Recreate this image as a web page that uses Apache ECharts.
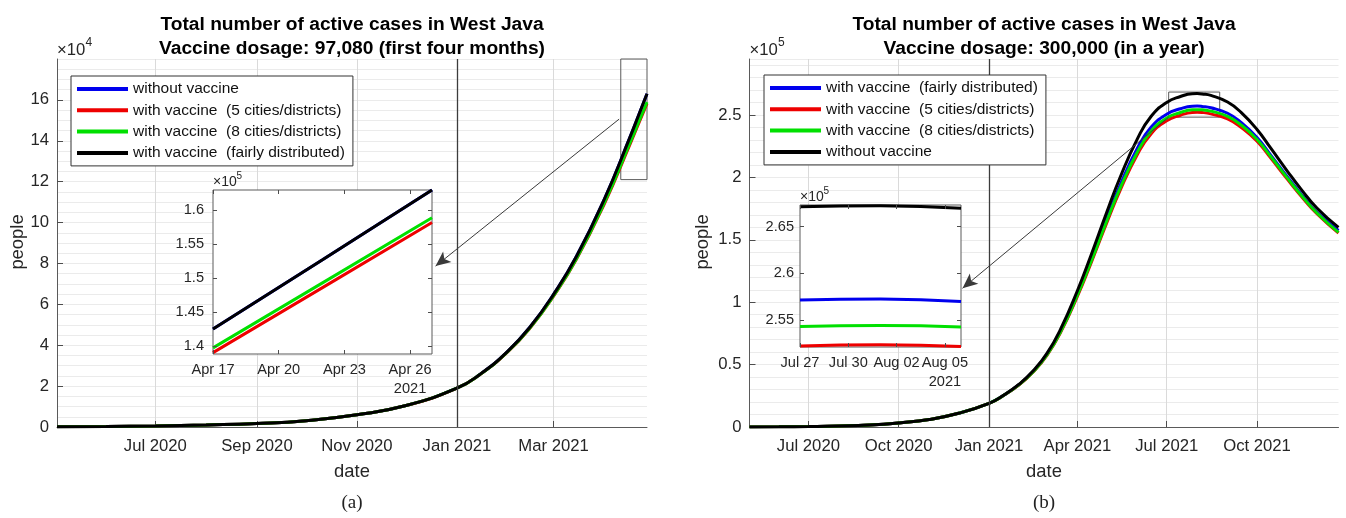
<!DOCTYPE html>
<html>
<head>
<meta charset="utf-8">
<title>Total number of active cases in West Java</title>
<script src="https://cdn.jsdelivr.net/npm/echarts@6.0.0/dist/echarts.min.js"></script>
<style>
html,body{margin:0;padding:0;background:#ffffff;overflow:hidden;}
#wrap{position:relative;width:1346px;height:518px;}
#chartA,#chartB{position:absolute;top:0;width:673px;height:518px;}
#chartA{left:0;}
#chartB{left:673px;}
</style>
</head>
<body>
<div id="wrap"><div id="chartA"></div><div id="chartB"></div></div>
<script>
// ---------------- DATA : panel (a) ----------------
const aDates = ['2020-05-02','2020-06-01','2020-07-01','2020-08-01','2020-09-01','2020-10-01','2020-11-01','2020-12-01','2021-01-01','2021-01-15','2021-02-01','2021-02-15','2021-03-01','2021-03-15','2021-04-01','2021-04-17','2021-04-22','2021-04-27'];
const aWithoutVaccine     = [150,300,550,1000,1700,3100,6000,10500,19000,25700,37000,49300,64900,83500,111500,142500,152700,163000];
const aFiveCities         = [150,300,550,1000,1700,3100,6000,10500,19000,25620,36740,48780,64000,82100,109200,139000,148600,158200];
const aEightCities        = [150,300,550,1000,1700,3100,6000,10500,19000,25640,36800,48900,64200,82400,109700,139700,149300,158900];
const aFairlyDistributed  = [150,300,550,1000,1700,3100,6000,10500,19000,25700,37000,49300,64900,83500,111500,142500,152700,163000];
const aXRange = ['2020-05-02','2021-04-27'];
const aXTickDates = ['2020-07-01','2020-09-01','2020-11-01','2021-01-01','2021-03-01'];
const aXTickLabels = ['Jul 2020','Sep 2020','Nov 2020','Jan 2021','Mar 2021'];
const aYTicks = [0,20000,40000,60000,80000,100000,120000,140000,160000];
const aYMax = 180000;
const aInsetXRange = ['2021-04-17','2021-04-27'];
const aInsetYRange = [138800,163000];
const aInsetXTickDates = ['2021-04-17','2021-04-20','2021-04-23','2021-04-26'];
const aInsetXTickLabels = ['Apr 17','Apr 20','Apr 23','Apr 26\n2021'];
const aInsetYTicks = [140000,145000,150000,155000,160000];
const aZoomBox = [['2021-04-11',121000],['2021-04-27',180000]];
const aArrow = [['2021-04-10',150600],['2020-12-19',78700]];

// ---------------- DATA : panel (b) ----------------
const bDates = ['2020-05-02','2020-06-01','2020-07-01','2020-08-01','2020-09-01','2020-10-01','2020-11-01','2020-12-01','2021-01-01','2021-01-15','2021-02-01','2021-02-15','2021-03-01','2021-03-15','2021-04-01','2021-04-15','2021-05-01','2021-05-15','2021-06-01','2021-06-15','2021-07-01','2021-07-15','2021-07-27','2021-08-01','2021-08-06','2021-08-15','2021-09-01','2021-09-15','2021-10-01','2021-10-15','2021-11-01','2021-11-15','2021-12-01','2021-12-23'];
const bFairlyDistributed = [100,200,400,800,1600,3300,6000,11000,19000,24950,34300,44550,58200,77100,106700,134100,167300,194700,223250,240250,250750,255110,257150,257250,256970,255900,251500,244000,232000,218000,200500,186700,172200,157500];
const bFiveCities        = [100,200,400,800,1600,3300,6000,11000,19000,24900,34100,44200,57500,75900,104700,131600,163800,190500,218250,234950,245450,249910,252200,252350,252150,251000,247000,240000,229000,215500,198500,185000,171000,155500];
const bEightCities       = [100,200,400,800,1600,3300,6000,11000,19000,24930,34200,44350,57800,76400,105700,132700,165300,192300,220250,237150,247750,252110,254300,254400,254250,253200,249000,242000,230500,216800,199500,185800,171500,156000];
const bWithoutVaccine    = [100,200,400,800,1600,3300,6000,11000,19000,25000,34500,45000,59000,78600,109200,137900,172300,201000,230750,248950,260150,264910,267150,267250,266980,265800,260500,252000,238500,223500,205000,190500,175500,160000];
const bXRange = ['2020-05-02','2021-12-23'];
const bXTickDates = ['2020-07-01','2020-10-01','2021-01-01','2021-04-01','2021-07-01','2021-10-01'];
const bXTickLabels = ['Jul 2020','Oct 2020','Jan 2021','Apr 2021','Jul 2021','Oct 2021'];
const bYTicks = [0,50000,100000,150000,200000,250000];
const bYMax = 295000;
const bInsetXRange = ['2021-07-27','2021-08-06'];
const bInsetYRange = [252100,267330];
const bInsetXTickDates = ['2021-07-27','2021-07-30','2021-08-02','2021-08-05'];
const bInsetXTickLabels = ['Jul 27','Jul 30','Aug 02','Aug 05\n2021'];
const bInsetYTicks = [255000,260000,265000];
const bZoomBox = [['2021-07-03',248400],['2021-08-24',268500]];
const bArrow = [['2021-07-03',248400],['2020-12-05',111200]];

const vaccineStart = '2021-01-01';

// ---------------- STYLE ----------------
const FONT = '"Liberation Sans", Arial, Helvetica, sans-serif';
const SERIF = '"Liberation Serif", "Times New Roman", serif';
const INK = '#262626';
const BLUE = '#0000ee', RED = '#ee0000', GREEN = '#00e000', BLACK = '#000000';

const ts = s => { const p = s.split('-').map(Number); return Date.UTC(p[0], p[1] - 1, p[2]); };
const pairs = (dates, vals) => dates.map((d, i) => [ts(d), vals[i]]);

function txt(x, y, str, size, o) {
  o = o || {};
  return {
    type: 'text', x: x, y: y, rotation: o.rotation || 0, silent: true, z: 30,
    style: {
      text: str, fontSize: size, fontFamily: o.family || FONT, fontWeight: o.weight || 'normal',
      fill: o.color || INK, align: o.align || 'center', verticalAlign: o.valign || 'middle'
    }
  };
}

function buildOption(c) {
  const L = c.layout;
  const xTicks = c.xTickDates.map(ts);
  const insetXTicks = c.insetXTickDates.map(ts);
  const ix0 = ts(c.insetXRange[0]), ix1 = ts(c.insetXRange[1]);
  const tickStyle = { color: '#4d4d4d', width: 1 };
  const series = [];
  c.lines.forEach((ln, i) => {
    const s = {
      type: 'line', name: ln.name, xAxisIndex: 0, yAxisIndex: 0,
      data: pairs(c.dates, ln.values), symbol: 'none', showSymbol: false,
      smooth: 0.5, silent: true, z: 2,
      lineStyle: { color: ln.color, width: 3 }, itemStyle: { color: ln.color }
    };
    if (i === c.lines.length - 1) {
      s.markLine = {
        silent: true, symbol: ['none', 'none'], label: { show: false }, animation: false,
        lineStyle: { color: '#3a3a3a', width: 1, type: 'solid' },
        data: [
          { xAxis: ts(vaccineStart), lineStyle: { color: '#3c3c3c', width: 1.3, type: 'solid' } },
          [
            { coord: [ts(c.arrow[0][0]), c.arrow[0][1]], symbol: 'none' },
            { coord: [ts(c.arrow[1][0]), c.arrow[1][1]], symbol: 'arrow', symbolSize: [10, 15] }
          ]
        ]
      };
      s.markArea = {
        silent: true, label: { show: false },
        itemStyle: { color: 'rgba(0,0,0,0)', borderColor: '#5a5a5a', borderWidth: 1 },
        data: [[
          { coord: [ts(c.zoomBox[0][0]), c.zoomBox[0][1]] },
          { coord: [ts(c.zoomBox[1][0]), c.zoomBox[1][1]] }
        ]]
      };
    }
    series.push(s);
  });
  c.lines.forEach(ln => {
    series.push({
      type: 'line', name: ln.name, xAxisIndex: 1, yAxisIndex: 2,
      data: pairs(c.dates, ln.values).filter(p => p[0] >= ix0 && p[0] <= ix1),
      symbol: 'none', showSymbol: false, smooth: c.insetSmooth, silent: true, z: 6,
      lineStyle: { color: ln.color, width: 3 }, itemStyle: { color: ln.color }
    });
  });

  const xAxis = [
    {
      type: 'value', gridIndex: 0, min: ts(c.xRange[0]), max: ts(c.xRange[1]),
      axisLine: { show: true, onZero: false, lineStyle: { color: '#5a5a5a' } },
      axisTick: { show: true, inside: true, length: 6, customValues: xTicks, lineStyle: tickStyle },
      axisLabel: { show: true, customValues: xTicks, formatter: v => c.xTickLabels[xTicks.indexOf(v)] || '',
        fontSize: 16.7, fontFamily: FONT, color: INK, margin: 11 },
      splitLine: { show: true, lineStyle: { color: '#dadada', width: 1 } }
    },
    {
      type: 'value', gridIndex: 1, min: ix0, max: ix1, z: 7,
      axisLine: { show: false, onZero: false },
      axisTick: { show: true, inside: true, length: 4, customValues: insetXTicks, lineStyle: tickStyle },
      axisLabel: { show: true, customValues: insetXTicks, formatter: v => c.insetXTickLabels[insetXTicks.indexOf(v)] || '',
        fontSize: 14.6, fontFamily: FONT, color: INK, margin: 6, lineHeight: 19 },
      splitLine: { show: false }
    },
    {
      type: 'value', gridIndex: 1, position: 'top', min: ix0, max: ix1, z: 7,
      axisLine: { show: false, onZero: false },
      axisTick: { show: true, inside: true, length: 4, customValues: insetXTicks, lineStyle: tickStyle },
      axisLabel: { show: false }, splitLine: { show: false }
    }
  ];
  const yAxis = [
    {
      type: 'value', gridIndex: 0, min: 0, max: c.yMax, interval: c.yMajor,
      axisLine: { show: true, onZero: false, lineStyle: { color: '#5a5a5a' } },
      axisTick: { show: true, inside: true, length: 6, customValues: c.yTicks, lineStyle: tickStyle },
      axisLabel: { show: true, customValues: c.yTicks, formatter: v => String(+(v / c.yScale).toFixed(2)),
        fontSize: 16.7, fontFamily: FONT, color: INK, margin: 8 },
      splitLine: { show: true, lineStyle: { color: '#d8d8d8', width: 1 } }
    },
    {
      type: 'value', gridIndex: 0, position: 'left', min: 0, max: c.yMax, interval: c.yMinor,
      axisLine: { show: false }, axisTick: { show: false }, axisLabel: { show: false },
      splitLine: { show: true, lineStyle: { color: '#ebebeb', width: 1 } }
    },
    {
      type: 'value', gridIndex: 1, min: c.insetYRange[0], max: c.insetYRange[1], z: 7,
      axisLine: { show: false },
      axisTick: { show: true, inside: true, length: 4, customValues: c.insetYTicks, lineStyle: tickStyle },
      axisLabel: { show: true, customValues: c.insetYTicks, formatter: v => String(+(v / 1e5).toFixed(2)),
        fontSize: 14.6, fontFamily: FONT, color: INK, margin: c.insetYMargin },
      splitLine: { show: false }
    },
    {
      type: 'value', gridIndex: 1, position: 'right', min: c.insetYRange[0], max: c.insetYRange[1], z: 7,
      axisLine: { show: false },
      axisTick: { show: true, inside: true, length: 4, customValues: c.insetYTicks, lineStyle: tickStyle },
      axisLabel: { show: false }, splitLine: { show: false }
    }
  ];
  const mainCx = L.main[0] + L.main[2] / 2;
  const graphics = [
    txt(mainCx, 25, c.title1, 19.2, { weight: 'bold', color: '#000' }),
    txt(mainCx, 49, c.title2, 19.2, { weight: 'bold', color: '#000' }),
    txt(L.main[0], 50, '×10', 16.7, { align: 'left' }),
    txt(L.main[0] + 28.5, 43, c.exp, 12, { align: 'left' }),
    txt(L.inset[0], L.inset[1] - 8, '×10', 14, { align: 'left' }),
    txt(L.inset[0] + 23.5, L.inset[1] - 14, '5', 10, { align: 'left' }),
    txt(L.peopleX, 242, 'people', 18.4, { rotation: Math.PI / 2 }),
    txt(mainCx, 472, 'date', 18.4),
    txt(mainCx, 503, c.caption, 19, { family: SERIF, color: '#222' })
  ];
  return {
    animation: false,
    backgroundColor: '#ffffff',
    grid: [
      { left: L.main[0], top: L.main[1], width: L.main[2], height: L.main[3], show: false, outerBoundsMode: 'none' },
      { left: L.inset[0], top: L.inset[1], width: L.inset[2], height: L.inset[3], show: true, z: 3,
        backgroundColor: '#ffffff', borderColor: '#5a5a5a', borderWidth: 1, outerBoundsMode: 'none' }
    ],
    legend: {
      show: true, orient: 'vertical', left: L.legend[0], top: L.legend[1], padding: [5, 8, 5, 6],
      itemGap: 5.3, itemWidth: 51, itemHeight: 4, icon: 'rect', selectedMode: false,
      backgroundColor: '#ffffff', borderColor: '#333333', borderWidth: 1, borderRadius: 0, z: 8,
      textStyle: { fontSize: 15.5, fontFamily: FONT, color: '#111', lineHeight: 16 },
      data: c.lines.map(l => l.name)
    },
    xAxis: xAxis, yAxis: yAxis, series: series, graphic: graphics
  };
}

const cfgA = {
  layout: { main: [57, 59, 590, 368], inset: [213, 190, 219, 164], legend: [71, 76], peopleX: 18 },
  title1: 'Total number of active cases in West Java',
  title2: 'Vaccine dosage: 97,080 (first four months)',
  exp: '4', caption: '(a)',
  dates: aDates,
  lines: [
    { name: 'without vaccine', values: aWithoutVaccine, color: BLUE },
    { name: 'with vaccine  (5 cities/districts)', values: aFiveCities, color: RED },
    { name: 'with vaccine  (8 cities/districts)', values: aEightCities, color: GREEN },
    { name: 'with vaccine  (fairly distributed)', values: aFairlyDistributed, color: BLACK }
  ],
  xRange: aXRange, xTickDates: aXTickDates, xTickLabels: aXTickLabels,
  yTicks: aYTicks, yMax: aYMax, yMajor: 20000, yMinor: 5000, yScale: 1e4,
  insetXRange: aInsetXRange, insetYRange: aInsetYRange, insetXTickDates: aInsetXTickDates,
  insetXTickLabels: aInsetXTickLabels, insetYTicks: aInsetYTicks, insetYMargin: 9, insetSmooth: false,
  zoomBox: aZoomBox, arrow: aArrow
};
const cfgB = {
  layout: { main: [76.5, 59, 589, 368], inset: [127, 205, 161, 142], legend: [91, 75], peopleX: 30 },
  title1: 'Total number of active cases in West Java',
  title2: 'Vaccine dosage: 300,000 (in a year)',
  exp: '5', caption: '(b)',
  dates: bDates,
  lines: [
    { name: 'with vaccine  (fairly distributed)', values: bFairlyDistributed, color: BLUE },
    { name: 'with vaccine  (5 cities/districts)', values: bFiveCities, color: RED },
    { name: 'with vaccine  (8 cities/districts)', values: bEightCities, color: GREEN },
    { name: 'without vaccine', values: bWithoutVaccine, color: BLACK }
  ],
  xRange: bXRange, xTickDates: bXTickDates, xTickLabels: bXTickLabels,
  yTicks: bYTicks, yMax: bYMax, yMajor: 50000, yMinor: 10000, yScale: 1e5,
  insetXRange: bInsetXRange, insetYRange: bInsetYRange, insetXTickDates: bInsetXTickDates,
  insetXTickLabels: bInsetXTickLabels, insetYTicks: bInsetYTicks, insetYMargin: 6, insetSmooth: true,
  zoomBox: bZoomBox, arrow: bArrow
};

const chartA = echarts.init(document.getElementById('chartA'), null, { renderer: 'canvas' });
chartA.setOption(buildOption(cfgA));
const chartB = echarts.init(document.getElementById('chartB'), null, { renderer: 'canvas' });
chartB.setOption(buildOption(cfgB));
</script>
</body>
</html>
